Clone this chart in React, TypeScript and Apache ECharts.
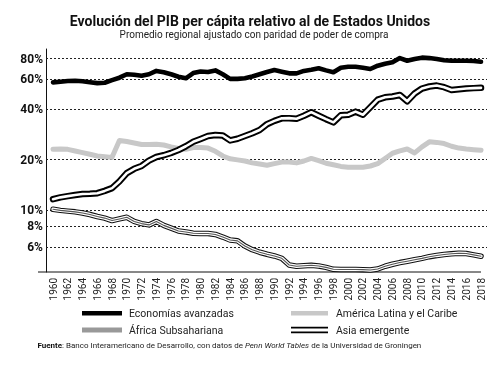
import React, { useEffect, useRef } from "react";
import * as echarts from "echarts";

const years: number[] = [];
for (let y = 1960; y <= 2018; y++) years.push(y);
const yearLabels = years.filter((y) => y % 2 === 0);
const yTicks = [6, 8, 10, 20, 40, 60, 80];

const seriesNames = [
  "Economías avanzadas",
  "América Latina y el Caribe",
  "África Subsahariana",
  "Asia emergente",
];

const advanced = [
  57.7, 58.2, 58.8, 59.0, 58.6, 57.8, 57.1, 57.4, 59.5, 61.5,
  64.5, 64.0, 63.2, 64.5, 67.5, 66.3, 64.5, 62.3, 61.0, 65.5,
  67.0, 66.5, 68.0, 64.5, 60.5, 60.5, 61.0, 62.5, 64.5, 66.5,
  68.3, 66.8, 65.3, 65.3, 67.5, 68.5, 70.0, 68.0, 66.3, 70.5,
  71.5, 71.5, 70.5, 69.3, 72.5, 74.5, 76.0, 80.5, 77.6, 79.5,
  81.0, 80.5, 79.5, 78.2, 77.6, 77.6, 77.6, 77.4, 76.6,
];
const latam = [
  23.0, 23.1, 23.0, 22.5, 22.0, 21.5, 21.0, 20.8, 20.6, 26.0,
  25.6, 25.1, 24.6, 24.6, 24.7, 24.4, 23.8, 23.3, 23.0, 23.6,
  23.6, 23.4, 22.4, 21.0, 20.2, 19.9, 19.6, 19.1, 18.8, 18.5,
  18.9, 19.3, 19.3, 19.1, 19.6, 20.3, 19.7, 19.0, 18.6, 18.2,
  18.0, 18.0, 18.0, 18.3, 18.9, 20.3, 21.8, 22.5, 23.1, 21.9,
  23.8, 25.5, 25.3, 24.9, 24.0, 23.4, 23.1, 22.9, 22.7,
];
const africa = [
  10.1, 9.95, 9.85, 9.75, 9.6, 9.4, 9.15, 8.95, 8.65, 8.85,
  9.05, 8.55, 8.3, 8.15, 8.55, 8.1, 7.8, 7.5, 7.4, 7.27,
  7.25, 7.25, 7.15, 6.9, 6.62, 6.55, 6.1, 5.8, 5.6, 5.45,
  5.32, 5.15, 4.7, 4.62, 4.65, 4.68, 4.64, 4.55, 4.43, 4.42,
  4.42, 4.42, 4.41, 4.39, 4.45, 4.62, 4.75, 4.86, 4.95, 5.05,
  5.15, 5.27, 5.36, 5.43, 5.48, 5.52, 5.5, 5.4, 5.3,
];
const asia = [
  11.6, 11.9, 12.1, 12.3, 12.45, 12.5, 12.6, 13.0, 13.5, 14.8,
  16.6, 17.6, 18.3, 19.7, 20.7, 21.2, 21.9, 22.8, 24.0, 25.5,
  26.5, 27.6, 28.0, 27.8, 26.0, 26.6, 27.6, 28.7, 30.0, 32.5,
  34.0, 35.2, 35.3, 35.0, 36.5, 38.3, 36.5, 34.8, 33.3, 36.7,
  37.0, 38.6, 37.0, 41.0, 45.5, 47.0, 47.5, 48.5, 44.5, 49.5,
  53.0, 54.5, 55.2, 54.0, 52.0, 52.5, 53.0, 53.3, 53.5,
];

const FONT = "Roboto, 'Noto Sans', sans-serif";

export default function App() {
  const ref = useRef<HTMLDivElement>(null);
  useEffect(() => {
    const chart = echarts.init(ref.current!, null, { renderer: "svg" });
    const pts = (arr: number[]) => years.map((y, i) => [y, arr[i]]);
    const line = (name: string, data: number[], color: string, width: number, z: number, extra: any = {}) => ({
      type: "line",
      name,
      data: pts(data),
      showSymbol: false,
      symbol: "none",
      silent: true,
      z,
      lineStyle: { color, width, join: "round", cap: "round" },
      ...extra,
    });
    chart.setOption({
      animation: false,
      textStyle: { fontFamily: FONT },
      grid: { left: 46, right: 13, top: 49, bottom: 97, containLabel: false },
      xAxis: {
        type: "value",
        min: 1959.05,
        max: 2018.81,
        axisLine: { show: false },
        axisTick: { show: false },
        splitLine: { show: false },
        axisLabel: {
          customValues: yearLabels,
          formatter: (v: number) => String(v),
          rotate: 90,
          margin: 6,
          fontSize: 10,
          color: "#222",
          fontFamily: FONT,
          padding: [0, 0, 8, 0],
        },
      },
      yAxis: {
        type: "log",
        logBase: 10,
        min: 4.27,
        max: 91.2,
        axisLine: { show: true, lineStyle: { color: "#111", width: 1 } },
        axisTick: { show: false },
        axisLabel: { show: false },
        splitLine: { show: false },
        minorSplitLine: { show: false },
      },
      series: [
        line(seriesNames[1], latam, "#c8c8c8", 5, 2, {
          markLine: {
            silent: true,
            symbol: "none",
            z: 1,
            lineStyle: { type: [2, 2], color: "#222", width: 1 },
            label: {
              show: true,
              position: "start",
              distance: 3,
              formatter: (p: any) => p.value + "%",
              fontFamily: FONT,
              fontWeight: "bold",
              fontSize: 12,
              color: "#111",
            },
            data: yTicks.map((v) => ({ yAxis: v })),
          },
        }),
        line(seriesNames[2], africa, "#111", 5.5, 3),
        line(seriesNames[2] + " b", africa, "#fff", 3.4, 4),
        line(seriesNames[2] + " c", africa, "#555", 1.1, 5),
        line(seriesNames[3], asia, "#000", 6.5, 6),
        line(seriesNames[3] + " b", asia, "#fff", 2.6, 7),
        line(seriesNames[0], advanced, "#000", 4.6, 8),
      ],
      graphic: [
        {
          type: "text",
          x: 250,
          y: 21,
          style: {
            text: "Evolución del PIB per cápita relativo al de Estados Unidos",
            align: "center",
            verticalAlign: "middle",
            fontFamily: FONT,
            fontWeight: "bold",
            fontSize: 14,
            fill: "#111",
          },
        },
        {
          type: "text",
          x: 254,
          y: 34,
          style: {
            text: "Promedio regional ajustado con paridad de poder de compra",
            align: "center",
            verticalAlign: "middle",
            fontFamily: FONT,
            fontSize: 10,
            fill: "#222",
          },
        },
        { type: "line", shape: { x1: 38, y1: 272, x2: 481, y2: 272 }, style: { stroke: "#111", lineWidth: 1 } },
        { type: "rect", shape: { x: 82, y: 311, width: 40, height: 4.5 }, style: { fill: "#000" } },
        { type: "text", x: 129, y: 313, style: { text: seriesNames[0], verticalAlign: "middle", fontFamily: FONT, fontSize: 10.5, fill: "#222" } },
        { type: "rect", shape: { x: 291, y: 311, width: 37, height: 4.5 }, style: { fill: "#c8c8c8" } },
        { type: "text", x: 336, y: 313, style: { text: seriesNames[1], verticalAlign: "middle", fontFamily: FONT, fontSize: 10.5, fill: "#222" } },
        { type: "rect", shape: { x: 82, y: 327.5, width: 40, height: 5 }, style: { fill: "#999" } },
        { type: "text", x: 129, y: 330, style: { text: seriesNames[2], verticalAlign: "middle", fontFamily: FONT, fontSize: 10.5, fill: "#222" } },
        { type: "rect", shape: { x: 291, y: 326.8, width: 37, height: 1.8 }, style: { fill: "#000" } },
        { type: "rect", shape: { x: 291, y: 331.4, width: 37, height: 1.8 }, style: { fill: "#000" } },
        { type: "text", x: 336, y: 330, style: { text: seriesNames[3], verticalAlign: "middle", fontFamily: FONT, fontSize: 10.5, fill: "#222" } },
        {
          type: "text",
          x: 37.5,
          y: 345,
          style: {
            text: "{b|Fuente}: Banco Interamericano de Desarrollo, con datos de {i|Penn World Tables} de la Universidad de Groningen",
            verticalAlign: "middle",
            fontFamily: FONT,
            fontSize: 8,
            fill: "#222",
            rich: {
              b: { fontWeight: "bold", fontFamily: FONT, fontSize: 8, fill: "#111" },
              i: { fontStyle: "italic", fontFamily: FONT, fontSize: 8, fill: "#222" },
            },
          },
        },
      ],
    });
    return () => chart.dispose();
  }, []);
  return <div ref={ref} style={{ position: "fixed", left: 0, top: 0, width: 500, height: 369 }} />;
}
